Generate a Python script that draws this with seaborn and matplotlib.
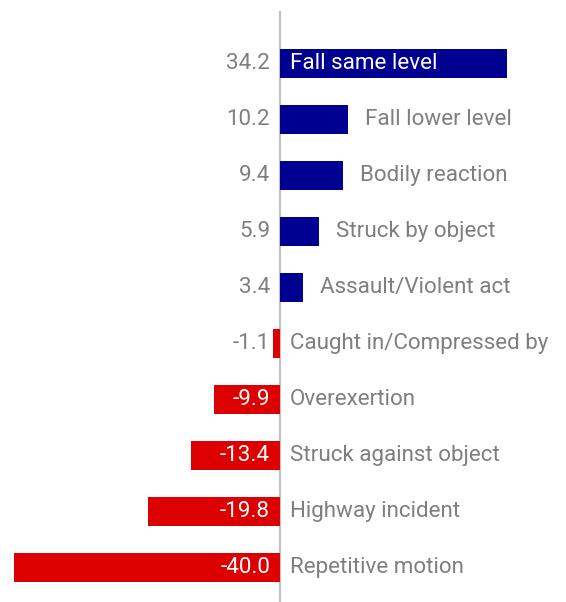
import matplotlib
matplotlib.use("Agg")
import matplotlib.pyplot as plt
import seaborn as sns
import pandas as pd

categories = ["Fall same level", "Fall lower level", "Bodily reaction", "Struck by object",
              "Assault/Violent act", "Caught in/Compressed by", "Overexertion",
              "Struck against object", "Highway incident", "Repetitive motion"]
values = [34.2, 10.2, 9.4, 5.9, 3.4, -1.1, -9.9, -13.4, -19.8, -40.0]
value_labels = ["34.2", "10.2", "9.4", "5.9", "3.4", "-1.1", "-9.9", "-13.4", "-19.8", "-40.0"]

NAVY = "#000090"
RED = "#DD0000"
GRAY = "#7F7F7F"

sns.set_theme(style="white")
plt.rcParams["font.family"] = ["Roboto", "DejaVu Sans"]
FS = 16.1

df = pd.DataFrame({"cat": categories, "val": values,
                   "sign": ["pos" if v >= 0 else "neg" for v in values]})

fig = plt.figure(figsize=(5.66, 6.02), dpi=100)
ax = fig.add_axes([0, 0, 1, 1])
sns.barplot(data=df, x="val", y="cat", hue="sign", palette={"pos": NAVY, "neg": RED},
            dodge=False, width=0.53, orient="h", legend=False, ax=ax, edgecolor="none",
            saturation=1)

ax.set_xlim(-42.1, 43.0)
ax.set_ylim(9.616, -1.134)
for s in ax.spines.values():
    s.set_visible(False)
ax.set_xticks([])
ax.set_yticks([])
ax.set_xlabel("")
ax.set_ylabel("")
ax.vlines(0, -0.94, 9.7, color="#BFBFBF", lw=1.5, zorder=0)

px = (43.0 + 42.1) / 566.0  # data units per pixel
fig.canvas.draw()
renderer = fig.canvas.get_renderer()

for i, (cat, v, vl) in enumerate(zip(categories, values, value_labels)):
    if v >= 0:
        ax.text(-10 * px, i, vl, ha="right", va="center", color=GRAY, fontsize=FS)
    else:
        t = ax.text(-10 * px, i, vl, ha="right", va="center", color="white", fontsize=FS)
        bb = t.get_window_extent(renderer)
        w = bb.width * px
        if w + 10 * px > abs(v):
            t.set_color(GRAY)
    if v >= 0:
        t = ax.text(10 * px, i, cat, ha="left", va="center", color="white", fontsize=FS)
        bb = t.get_window_extent(renderer)
        w = bb.width * px
        if w + 20 * px > v:
            t.set_x(v + 17 * px)
            t.set_color(GRAY)
    else:
        ax.text(10 * px, i, cat, ha="left", va="center", color=GRAY, fontsize=FS)

fig.savefig("out.png", dpi=100)
